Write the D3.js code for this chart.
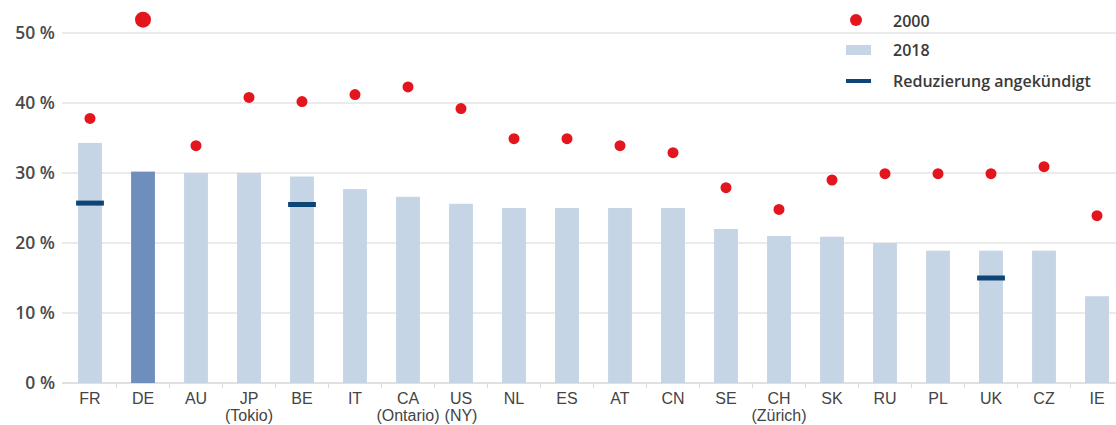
<!DOCTYPE html>
<html><head><meta charset="utf-8">
<script src="https://cdn.jsdelivr.net/npm/d3@7"></script>
<style>
body{margin:0;background:#fff;}
svg{display:block;}
</style></head>
<body>
<svg id="chart" width="1116" height="425"></svg>
<script>
const categories = ["FR","DE","AU","JP","BE","IT","CA","US","NL","ES","AT","CN","SE","CH","SK","RU","PL","UK","CZ","IE"];
const subLabels = ["","","","(Tokio)","","","(Ontario)","(NY)","","","","","","(Zürich)","","","","","",""];
const values2018 = [34.3,30.2,30,30,29.5,27.7,26.6,25.6,25,25,25,25,22,21,20.9,20,18.9,18.9,18.9,12.4];
const values2000 = [37.8,51.9,33.9,40.8,40.2,41.2,42.3,39.2,34.9,34.9,33.9,32.9,27.9,24.8,29,29.9,29.9,29.9,30.9,23.9];
const reductionCats = ["FR","BE","UK"];
const reductionVals = [25.7,25.5,15.0];
const yTicks = [0,10,20,30,40,50];
const legendLabels = ["2000","2018","Reduzierung angekündigt"];

const svg = d3.select("#chart");
const x = d3.scaleBand().domain(categories).range([63.5,1123.5]).paddingInner(0.55).paddingOuter(0.275);
const y = d3.scaleLinear().domain([0,50]).range([383,33]);

// grid lines
svg.append("g").selectAll("line").data(yTicks).join("line")
  .attr("x1",62).attr("x2",1116)
  .attr("y1",d=>y(d)).attr("y2",d=>y(d))
  .attr("stroke",d=>d===0?"#d6d6d6":"#e4e4e4").attr("stroke-width",1.5);

// y labels
svg.append("g").selectAll("text").data(yTicks).join("text")
  .attr("x",55).attr("y",d=>y(d)).attr("dy","0.36em")
  .attr("text-anchor","end")
  .attr("font-family","Open Sans, sans-serif").attr("font-size",17.5).attr("font-weight",600)
  .attr("fill","#4a4a4a")
  .text(d=>d+" %");

// category separator ticks
const step = x.step();
svg.append("g").selectAll("line").data(categories.slice(1)).join("line")
  .attr("x1",d=>x(d)+x.bandwidth()/2-step/2).attr("x2",d=>x(d)+x.bandwidth()/2-step/2)
  .attr("y1",383).attr("y2",388).attr("stroke","#dadada").attr("stroke-width",1);

// bars
svg.append("g").selectAll("rect").data(categories).join("rect")
  .attr("x",d=>x(d)).attr("width",x.bandwidth())
  .attr("y",(d,i)=>y(values2018[i])).attr("height",(d,i)=>y(0)-y(values2018[i]))
  .attr("fill",d=>d==="DE"?"#6e8fbe":"#c5d5e5");

// reduction markers
svg.append("g").selectAll("line").data(reductionCats).join("line")
  .attr("x1",d=>x(d)-2).attr("x2",d=>x(d)+x.bandwidth()+2)
  .attr("y1",(d,i)=>y(reductionVals[i])).attr("y2",(d,i)=>y(reductionVals[i]))
  .attr("stroke","#0d4577").attr("stroke-width",5);

// dots
svg.append("g").selectAll("circle").data(categories).join("circle")
  .attr("cx",d=>x(d)+x.bandwidth()/2)
  .attr("cy",(d,i)=>y(values2000[i]))
  .attr("r",d=>d==="DE"?8:5.5)
  .attr("fill","#e3161e");

// x labels
const xl = svg.append("g").attr("font-family","Liberation Sans Narrow, Arial Narrow, sans-serif")
  .attr("font-size",16).attr("fill","#444").attr("text-anchor","middle");
xl.selectAll("text.c").data(categories).join("text").attr("class","c")
  .attr("x",d=>x(d)+x.bandwidth()/2).attr("y",404).text(d=>d);
xl.selectAll("text.s").data(categories.filter((d,i)=>subLabels[i])).join("text").attr("class","s")
  .attr("x",d=>x(d)+x.bandwidth()/2).attr("y",421).text(d=>subLabels[categories.indexOf(d)]);

// legend
const lg = svg.append("g").attr("font-family","Open Sans, sans-serif").attr("font-size",16).attr("font-weight",600).attr("fill","#3a3a3a");
lg.append("circle").attr("cx",856).attr("cy",20).attr("r",6).attr("fill","#e3161e");
lg.append("rect").attr("x",846).attr("y",45).attr("width",25).attr("height",10).attr("fill","#c5d5e5");
lg.append("line").attr("x1",846).attr("x2",871).attr("y1",81).attr("y2",81).attr("stroke","#0d4577").attr("stroke-width",4);
lg.selectAll("text").data(legendLabels).join("text")
  .attr("x",893).attr("y",(d,i)=>[21,50,81][i]).attr("dy","0.36em").text(d=>d);
</script>
</body></html>
